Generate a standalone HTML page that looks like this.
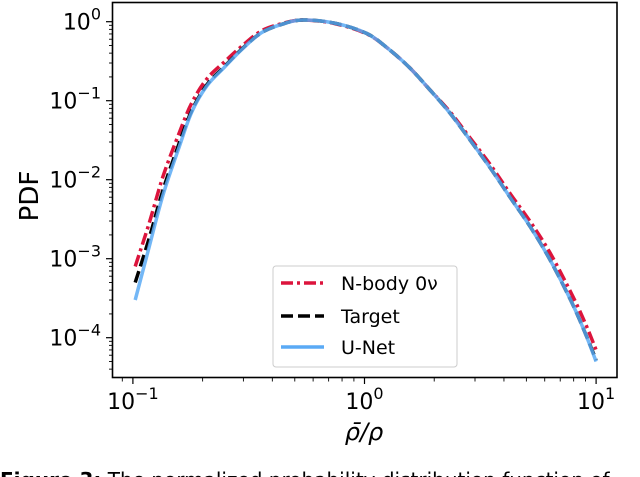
<!DOCTYPE html>
<html><head><meta charset="utf-8"><style>
body{margin:0;background:#fff;width:640px;height:477px;overflow:hidden}
svg{display:block}
text{font-family:"DejaVu Sans","Liberation Sans",sans-serif;fill:#000}
</style></head><body>
<svg id="chart" width="640" height="477" viewBox="0 0 640 477" xmlns="http://www.w3.org/2000/svg">
<rect x="112.5" y="2.5" width="504.5" height="375" fill="none" stroke="#000" stroke-width="1.6"/>
<g id="ticks"></g>
<g id="series"></g>
<g>
<rect x="273" y="266" width="184" height="101" rx="3" fill="#fff" fill-opacity="0.85" stroke="#ccc" stroke-width="1"/>
<line x1="281" y1="283" x2="324" y2="283" stroke="#dc143c" stroke-width="3.5" stroke-dasharray="12,4,3,4"/>
<text x="341" y="290" font-size="19">N-body 0ν</text>
<line x1="281" y1="316" x2="324" y2="316" stroke="#000" stroke-width="3.5" stroke-dasharray="12,5"/>
<text x="341" y="323" font-size="19">Target</text>
<line x1="281" y1="347" x2="324" y2="347" stroke="#5aaaf5" stroke-width="3.5"/>
<text x="341" y="354" font-size="19">U-Net</text>
</g>
<text x="0" y="0" font-size="26" text-anchor="middle" transform="translate(38,196) rotate(-90)">PDF</text>
<text x="364" y="440" font-size="24" font-style="italic" text-anchor="middle">ρ̄/ρ</text>
<text x="0" y="487" font-size="20" font-family="Liberation Serif,serif"><tspan font-weight="bold">Figure 3:</tspan>  The normalized probability distribution function of</text>
</svg>
<script>
const xLogs=[-0.99,-0.93,-0.87,-0.80,-0.745,-0.68,-0.605,-0.53,-0.447,-0.36,-0.27,-0.13,0.01,0.10,0.19,0.28,0.37,0.455,0.54,0.63,0.717,0.80,0.89,0.95,1.0];
const targetVals=[5e-4,1.8e-3,7.4e-3,2.9e-2,7.6e-2,0.16,0.27,0.45,0.72,0.92,1.05,0.96,0.71,0.46,0.27,0.14,0.069,0.032,0.0145,0.0059,0.0025,0.00098,0.0003,0.00012,0.000052];
const nbodyVals=[8e-4,2.8e-3,1.1e-2,3.9e-2,0.095,0.19,0.31,0.49,0.76,0.94,1.05,0.95,0.70,0.46,0.27,0.14,0.072,0.034,0.016,0.0066,0.0029,0.0012,0.00038,0.00016,0.00007];
const unetVals=[3e-4,1.4e-3,6.4e-3,2.6e-2,7.3e-2,0.155,0.265,0.445,0.72,0.92,1.05,0.96,0.71,0.46,0.27,0.14,0.069,0.032,0.0145,0.0059,0.0025,0.00098,0.0003,0.00012,0.00005];
const xTickLabels=["10","10","10"], xTickExps=["−1","0","1"];
const yTickExps=["0","−1","−2","−3","−4"];
const NS="http://www.w3.org/2000/svg";
const X=lx=>364.5+lx*231.6;
const Y=v=>21.7-Math.log10(v)*79;
function el(t,a,p){const e=document.createElementNS(NS,t);for(const k in a)e.setAttribute(k,a[k]);p.appendChild(e);return e;}
const tk=document.getElementById('ticks');
[-1,0,1].forEach((d,i)=>{
  const l=el('line',{x1:X(d),x2:X(d),y1:378,y2:384,stroke:'#000','stroke-width':1.2},tk);
  
  
  const t=el('text',{x:X(d),y:409,'font-size':22,'text-anchor':'middle'},tk);
  
  
  t.textContent=xTickLabels[i];
  const s=el('tspan',{dy:-10,'font-size':16},t);s.textContent=xTickExps[i];
});
for(let d=-2;d<=1;d++)for(let m=2;m<=9;m++){const lx=d+Math.log10(m);const x=X(lx);if(x<113||x>616)continue;
  const l=el('line',{x1:x,x2:x,y1:378,y2:381.5,stroke:'#000','stroke-width':0.9},tk);
  
  }
yTickExps.forEach((e,i)=>{const y=Y(Math.pow(10,-i));
  const l=el('line',{x1:106,x2:112.5,y1:y,y2:y,stroke:'#000','stroke-width':1.2},tk);
  
  
  const t=el('text',{x:101,y:y+8,'font-size':22,'text-anchor':'end'},tk);
  
  
  t.textContent='10';
  const s=el('tspan',{dy:-10,'font-size':16},t);s.textContent=e;});
for(let d=-5;d<=0;d++)for(let m=2;m<=9;m++){const y=Y(m*Math.pow(10,d));if(y<3||y>377)continue;
  const l=el('line',{x1:109,x2:112.5,y1:y,y2:y,stroke:'#000','stroke-width':0.9},tk);
  
  }
const sg=document.getElementById('series');
function path(vals){
  const P=vals.map((v,i)=>[X(xLogs[i]),Y(v)]);
  let d='M'+P[0][0].toFixed(1)+','+P[0][1].toFixed(1);
  for(let i=0;i<P.length-1;i++){
    const p0=P[Math.max(0,i-1)],p1=P[i],p2=P[i+1],p3=P[Math.min(P.length-1,i+2)];
    const c1=[p1[0]+(p2[0]-p0[0])/6,p1[1]+(p2[1]-p0[1])/6];
    const c2=[p2[0]-(p3[0]-p1[0])/6,p2[1]-(p3[1]-p1[1])/6];
    d+='C'+c1.map(n=>n.toFixed(1)).join(',')+' '+c2.map(n=>n.toFixed(1)).join(',')+' '+p2[0].toFixed(1)+','+p2[1].toFixed(1);
  }
  return d;
}
const p1=el('path',{d:path(nbodyVals),fill:'none',stroke:'#dc143c','stroke-width':3.5,'stroke-dasharray':'12,4,3,4'},sg);


const p2=el('path',{d:path(targetVals),fill:'none',stroke:'#000','stroke-width':3.5,'stroke-dasharray':'12,5'},sg);


const p3=el('path',{d:path(unetVals),fill:'none',stroke:'#5aaaf5','stroke-width':3.5,'stroke-opacity':0.85},sg);


</script>
</body></html>
